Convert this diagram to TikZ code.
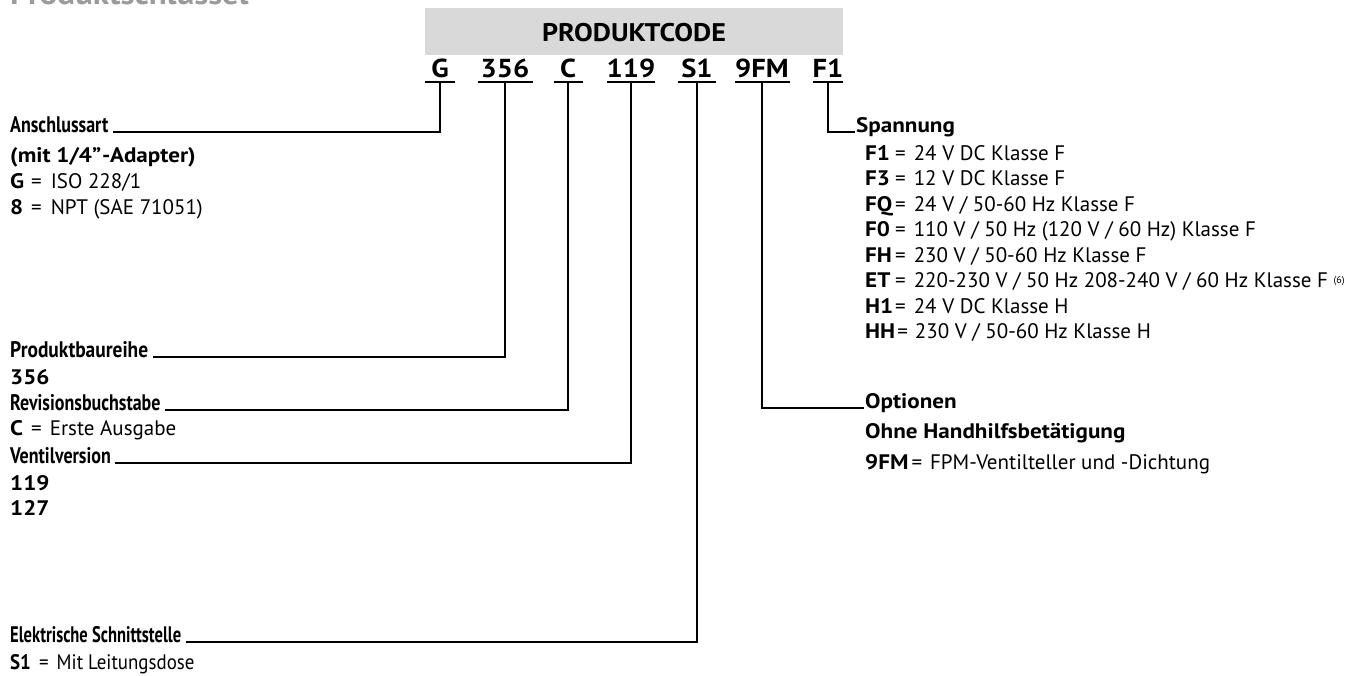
\documentclass[tikz,border=0pt]{standalone}
\usepackage{fontspec}
\usepackage{graphicx}
\setmainfont{PT Sans}[BoldFeatures={FakeStretch=1.1}]
\newfontfamily\condf{PT Sans}[FakeStretch=0.8]
\newfontfamily\condr{PT Sans}[FakeStretch=0.9]
\newcommand\hsc[2]{\scalebox{#1}[1]{#2}}
\begin{document}
\begin{tikzpicture}[x=1pt,y=-1pt,
  lbl/.style={anchor=base west,inner sep=0pt,font=\fontsize{21}{24}\selectfont},
  head/.style={anchor=base west,inner sep=0pt,font=\fontsize{22.5}{26}\selectfont\condf\bfseries},
  code/.style={anchor=base,inner sep=0pt,font=\fontsize{26}{30}\selectfont\bfseries},
  conn/.style={line width=1.4pt,line cap=rect}]
\useasboundingbox (0,0) rectangle (1349,675);
\definecolor{boxgray}{RGB}{217,217,217}
\definecolor{titlegray}{RGB}{155,155,155}
% cropped page title
\node[anchor=base west,inner sep=0pt,font=\fontsize{30}{36}\selectfont\bfseries,text=titlegray] (title) at (10,4) {Produktschlüssel};
% header box
\fill[boxgray] (425,8) rectangle (843,55);
\node[anchor=base,inner sep=0pt,font=\fontsize{25.5}{30}\selectfont\bfseries] (pc) at (634,41) {PRODUKTCODE};
% code letters
\node[code] (cG) at (440,77) {G};
\node[code] (c356) at (505,77) {356};
\node[code] (cC) at (568,77) {C};
\node[code] (c119) at (631,77) {119};
\node[code] (cS1) at (697,77) {S1};
\node[code] (c9FM) at (762,77) {9FM};
\node[code] (cF1) at (828,77) {F1};
% underlines
\foreach \a/\b in {425/455,478/533,554/583,607/655,678/716,735/790,813/843}
  \draw[line width=1.5pt] (\a,82) -- (\b,82);
% left labels
\node[head] (l1) at (10,132) {Anschlussart};
\node[lbl] at (10,162) {\bfseries (mit 1/4”\kern1pt-Adapter)};
\node[lbl] at (10,188) {\makebox[21pt][l]{\bfseries G}=\hspace{9pt}ISO 228/1};
\node[lbl] at (10,214) {\makebox[21pt][l]{\bfseries 8}=\hspace{9pt}NPT (SAE 71051)};
\node[head] (l2) at (10,357) {\hsc{1.08}{Produktbaureihe}};
\node[lbl] at (10,384) {\bfseries 356};
\node[head] (l3) at (10,410) {Revisionsbuchstabe};
\node[lbl] at (10,435) {\makebox[21pt][l]{\bfseries C}=\hspace{8pt}Erste Ausgabe};
\node[head] (l4) at (10,463) {Ventilversion};
\node[lbl] at (10,490) {\bfseries 119};
\node[lbl] at (10,515) {\bfseries 127};
\node[head] (l5) at (10,642) {\hsc{0.92}{Elektrische Schnittstelle}};
\node[lbl] at (10,669) {\condr\makebox[29pt][l]{\bfseries S1}=\hspace{8pt}Mit Leitungsdose};
% right labels
\node[lbl] (r1) at (856,132) {\bfseries Spannung};
\node[lbl] at (865,160) {\makebox[30pt][l]{\bfseries F1}=\hspace{8pt}24 V DC Klasse F};
\node[lbl] at (865,185) {\makebox[30pt][l]{\bfseries F3}=\hspace{8pt}12 V DC Klasse F};
\node[lbl] at (865,211) {\makebox[30pt][l]{\bfseries FQ}=\hspace{8pt}24 V / 50-60 Hz Klasse F};
\node[lbl] at (865,236) {\makebox[30pt][l]{\bfseries F0}=\hspace{8pt}110 V / 50 Hz (120 V / 60 Hz) Klasse F};
\node[lbl] at (865,262) {\makebox[30pt][l]{\bfseries FH}=\hspace{8pt}230 V / 50-60 Hz Klasse F};
\node[lbl] at (865,287) {\makebox[30pt][l]{\bfseries ET}=\hspace{8pt}220-230 V / 50 Hz 208-240 V / 60 Hz Klasse F {\fontsize{10}{11}\selectfont\raisebox{0.7ex}{(6)}}};
\node[lbl] at (865,313) {\makebox[30pt][l]{\bfseries H1}=\hspace{8pt}24 V DC Klasse H};
\node[lbl] at (865,338) {{\bfseries HH}\hspace{2pt}=\hspace{7pt}230 V / 50-60 Hz Klasse H};
\node[lbl] (r2) at (865,408) {\bfseries Optionen};
\node[lbl] at (865,438) {\bfseries Ohne Handhilfsbetätigung};
\node[lbl] at (865,469) {{\bfseries 9FM}\hspace{3pt}=\hspace{8pt}FPM-Ventilteller und -Dichtung};
% connectors
\draw[conn] (cG.south |- 0,82) |- ([xshift=5pt]l1.base east);
\draw[conn] (c356.south |- 0,82) |- ([xshift=5pt]l2.base east);
\draw[conn] (cC.south |- 0,82) |- ([xshift=5pt]l3.base east);
\draw[conn] (c119.south |- 0,82) |- ([xshift=5pt]l4.base east);
\draw[conn] (cS1.south |- 0,82) |- ([xshift=5pt]l5.base east);
\draw[conn] (c9FM.south |- 0,82) |- ([xshift=-2pt]r2.base west);
\draw[conn] (cF1.south |- 0,82) |- ([xshift=-2pt]r1.base west);
\end{tikzpicture}
\end{document}
